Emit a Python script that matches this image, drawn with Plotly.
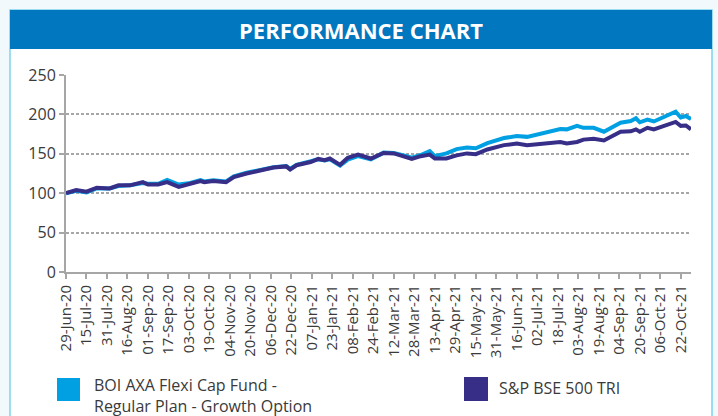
import plotly.graph_objects as go
import pandas as pd

# ---- data ----
dates = [
    "2020-06-29", "2020-07-07", "2020-07-15", "2020-07-23", "2020-08-02", "2020-08-09",
    "2020-08-18", "2020-08-28", "2020-09-01", "2020-09-09", "2020-09-16", "2020-09-25",
    "2020-10-04", "2020-10-12", "2020-10-15", "2020-10-22", "2020-11-01", "2020-11-07",
    "2020-11-17", "2020-11-27", "2020-12-08", "2020-12-18", "2020-12-21", "2020-12-26",
    "2021-01-06", "2021-01-12", "2021-01-17", "2021-01-21", "2021-01-29", "2021-02-04",
    "2021-02-12", "2021-02-22", "2021-03-04", "2021-03-12", "2021-03-22", "2021-03-26",
    "2021-04-02", "2021-04-09", "2021-04-13", "2021-04-22", "2021-04-30", "2021-05-08",
    "2021-05-15", "2021-05-24", "2021-06-06", "2021-06-16", "2021-06-24", "2021-07-10",
    "2021-07-20", "2021-07-25", "2021-08-02", "2021-08-07", "2021-08-15", "2021-08-23",
    "2021-08-31", "2021-09-05", "2021-09-13", "2021-09-17", "2021-09-20", "2021-09-26",
    "2021-10-01", "2021-10-09", "2021-10-14", "2021-10-18", "2021-10-22", "2021-10-26",
    "2021-10-30",
]
fund_values = [
    100, 103, 101, 106, 106, 109,
    110, 113, 112, 112, 117, 111,
    113, 116.5, 115, 116.5, 115, 121.5,
    126, 129, 133, 134.5, 131, 136,
    140, 143, 141.5, 143, 135, 142.5,
    147, 143, 151.5, 151, 147, 145,
    148.5, 153.5, 147, 150.5, 156, 158,
    157, 163.5, 170, 172.5, 171.5, 177,
    181.5, 181, 185.5, 183, 183, 178,
    185, 189.5, 191.5, 195, 190, 193.5,
    191, 197.5, 201, 203.5, 196, 198,
    194,
]
bench_values = [
    100, 104, 102, 107, 106, 110,
    110, 114, 111, 111, 114, 108,
    112, 115.5, 114, 115.5, 114, 120.5,
    125, 128, 132.5, 134, 130, 135.5,
    139.5, 143.5, 142, 144, 136, 145,
    149, 144, 151, 150.5, 146, 143.5,
    147, 149, 144, 144, 148, 150.5,
    149.5, 155.5, 161, 163, 161, 163,
    165, 163, 165, 168, 169, 167,
    173.5, 178, 178.5, 181, 178, 183,
    181, 185, 188.5, 190.5, 185.5, 186,
    181,
]
series_names = ["BOI AXA Flexi Cap Fund -", "Regular Plan - Growth Option", "S&P BSE 500 TRI"]
tick_dates = pd.date_range("2020-06-29", "2021-10-22", freq="16D")
y_ticks = [0, 50, 100, 150, 200, 250]

FUND_C = "#00a0e3"
BENCH_C = "#372e88"
TXT = "#3a3a3a"

fig = go.Figure()
fig.add_trace(go.Scatter(x=dates, y=fund_values, mode="lines",
                         line=dict(color=FUND_C, width=4), name="BOI AXA Flexi Cap Fund"))
fig.add_trace(go.Scatter(x=dates, y=bench_values, mode="lines",
                         line=dict(color=BENCH_C, width=4), name=series_names[2]))

# geometry helpers (pixel -> paper)
L, R, T, B = 66, 27, 75, 144
W, H = 718, 416
pw, ph = W - L - R, H - T - B
def px(x):
    return (x - L) / pw
def py(y):
    return (H - B - y) / ph

shapes = [
    # card
    dict(type="rect", xref="paper", yref="paper", x0=px(10), x1=px(712), y0=py(440), y1=py(10),
         fillcolor="white", line=dict(color="#7fd3ea", width=1.5), layer="below"),
    # header
    dict(type="rect", xref="paper", yref="paper", x0=px(10), x1=px(712), y0=py(49), y1=py(10),
         fillcolor="#0077be", line=dict(width=0), layer="below"),
    # legend squares
    dict(type="rect", xref="paper", yref="paper", x0=px(57), x1=px(80), y0=py(401), y1=py(378),
         fillcolor=FUND_C, line=dict(width=0)),
    dict(type="rect", xref="paper", yref="paper", x0=px(464), x1=px(488), y0=py(401), y1=py(377),
         fillcolor=BENCH_C, line=dict(width=0)),
]

ann = [
    dict(text="<b>PERFORMANCE CHART</b>", x=px(361), y=py(30), xref="paper", yref="paper",
         showarrow=False, font=dict(family="Open Sans", size=22, color="white"),
         xanchor="center", yanchor="middle"),
    dict(text=series_names[0], x=px(93), y=py(385), xref="paper", yref="paper", showarrow=False,
         borderpad=0, font=dict(family="Open Sans", size=16, color=TXT),
         xanchor="left", yanchor="middle"),
    dict(text=series_names[1], x=px(93), y=py(405.5), xref="paper", yref="paper", showarrow=False,
         borderpad=0, font=dict(family="Open Sans", size=16, color=TXT),
         xanchor="left", yanchor="middle"),
    dict(text=series_names[2], x=px(498), y=py(388), xref="paper", yref="paper", showarrow=False,
         borderpad=0, font=dict(family="Open Sans", size=16, color=TXT),
         xanchor="left", yanchor="middle"),
]

fig.update_layout(
    width=W, height=H,
    margin=dict(l=L, r=R, t=T, b=B, pad=0),
    paper_bgcolor="#f2f9fd",
    plot_bgcolor="rgba(0,0,0,0)",
    showlegend=False,
    shapes=shapes,
    annotations=ann,
    font=dict(family="Open Sans", color=TXT),
)
fig.update_xaxes(
    type="date", range=["2020-06-29", "2021-10-30"],
    tickvals=tick_dates, tickformat="%d-%b-%y", tickangle=-90,
    tickfont=dict(family="Open Sans", size=15, color=TXT),
    showgrid=False, zeroline=False,
    showline=True, linecolor="#a6a6a6", linewidth=2,
    ticks="outside", ticklen=5, tickcolor="#a6a6a6", tickwidth=1.5,
)
fig.update_yaxes(
    range=[0, 250], tickvals=y_ticks,
    tickfont=dict(family="Open Sans", size=16, color=TXT),
    showgrid=True, gridcolor="#a6a6a6", gridwidth=1.5, griddash="3px,2px",
    zeroline=False,
    showline=True, linecolor="#a6a6a6", linewidth=2,
    ticks="outside", ticklen=5, tickcolor="#a6a6a6", tickwidth=1.5,
)

fig.write_html("out.html", config={"displayModeBar": False},
               post_script="document.body.style.margin='0';document.body.style.overflow='hidden';")
